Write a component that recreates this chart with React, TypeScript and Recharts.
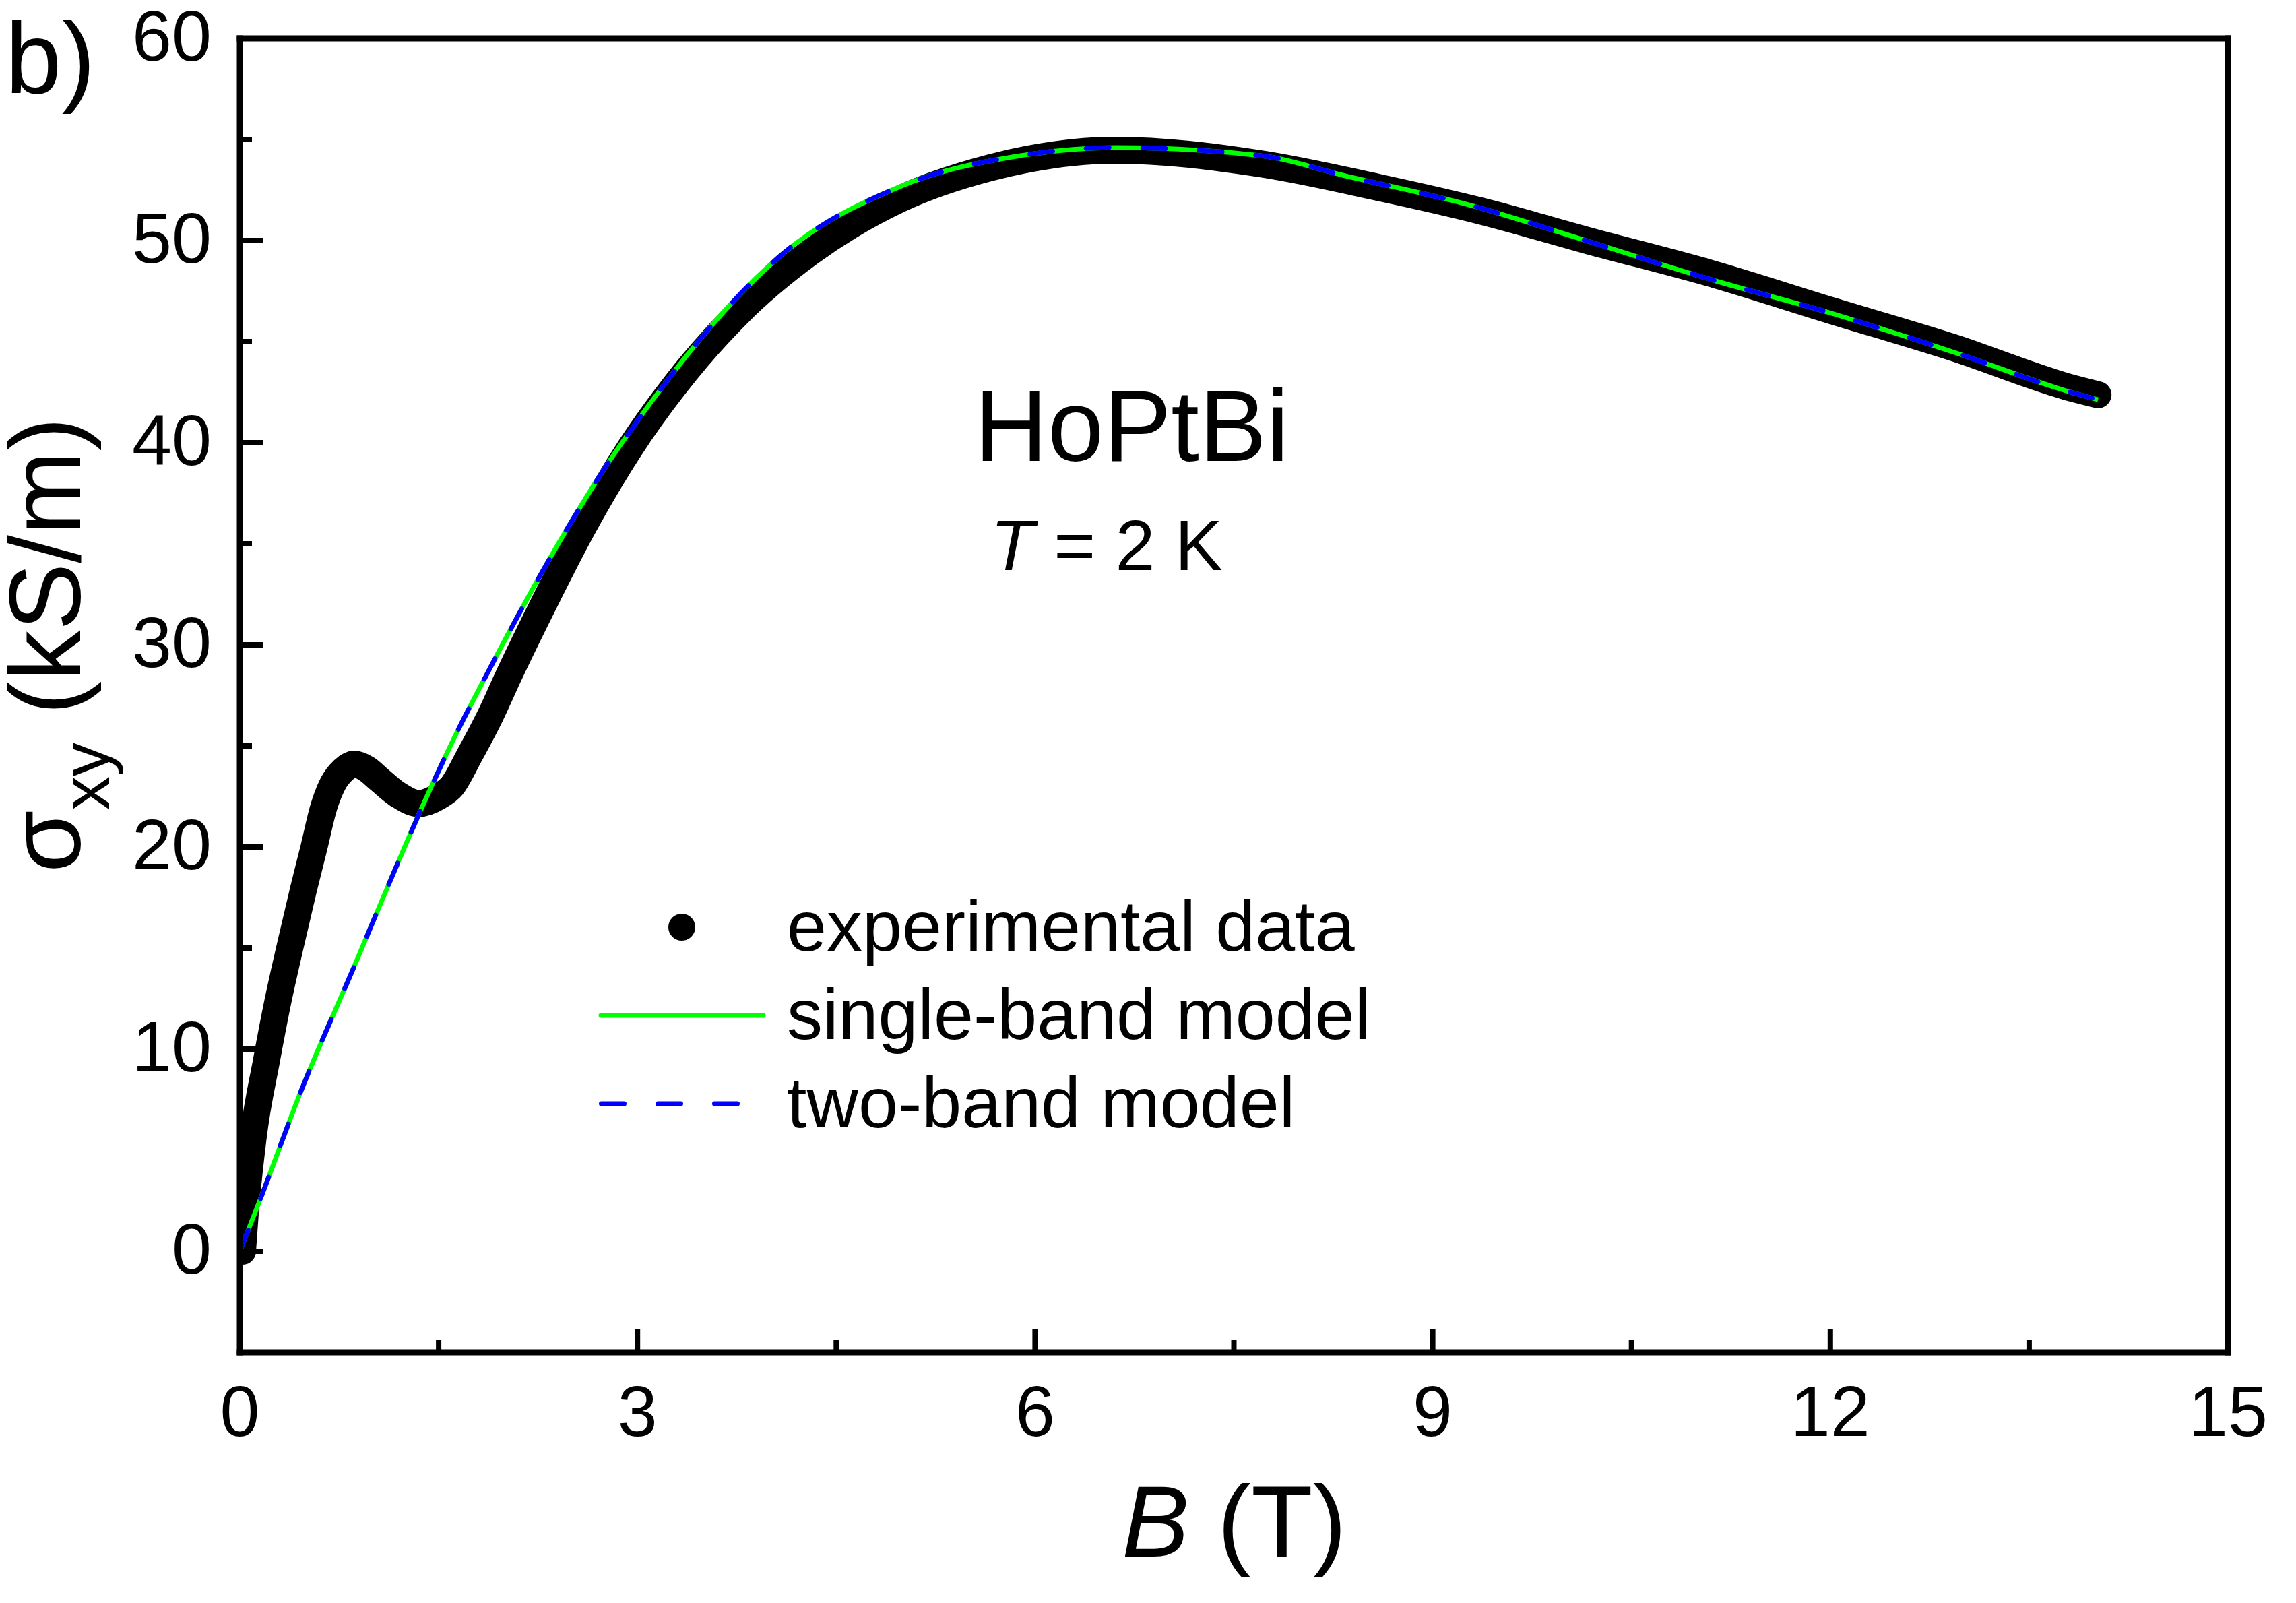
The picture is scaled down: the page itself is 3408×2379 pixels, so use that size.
import React from 'react';
import { LineChart, Line, XAxis, YAxis, Legend } from 'recharts';

// ---------- data ----------
const expB = [0.02, 0.04, 0.1, 0.2, 0.285, 0.38, 0.48, 0.56, 0.63, 0.7, 0.78, 0.865, 0.96, 1.05, 1.19, 1.35, 1.5, 1.6, 1.73, 1.89, 2.03, 2.29, 2.58, 2.94, 3.29, 3.76, 4.3, 4.98, 5.66, 6.61, 7.7, 8.61, 9.37, 10.18, 11.1, 12.01, 12.92, 13.84, 14.02];
const expSigma = [0, 1.8, 5.6, 9.4, 12.3, 15.1, 17.9, 20.0, 21.9, 23.1, 23.8, 24.1, 23.85, 23.35, 22.6, 22.15, 22.5, 23.0, 24.5, 26.5, 28.5, 32.0, 35.7, 39.7, 42.9, 46.4, 49.4, 52.05, 53.6, 54.47, 53.8, 52.6, 51.45, 49.98, 48.37, 46.53, 44.72, 42.67, 42.37];

const modelB = [0, 0.15, 0.46, 0.87, 1.12, 1.37, 1.64, 1.86, 2.12, 2.35, 2.7, 3.17, 3.71, 4.07, 4.98, 5.89, 6.61, 7.7, 8.36, 9.27, 10.18, 11.1, 12.01, 12.92, 13.84, 14.02];
const singleBandSigma = [0, 2.5, 7.9, 14.2, 18.1, 21.9, 25.7, 28.5, 31.7, 34.4, 38.2, 42.6, 46.9, 49.2, 52.67, 54.2, 54.6, 54.2, 53.17, 51.77, 49.95, 48.07, 46.4, 44.5, 42.45, 42.13];
const twoBandSigma = [0, 2.5, 7.9, 14.2, 18.1, 21.9, 25.7, 28.5, 31.7, 34.4, 38.2, 42.6, 46.9, 49.2, 52.67, 54.2, 54.6, 54.2, 53.17, 51.77, 49.95, 48.07, 46.4, 44.5, 42.45, 42.13];

const X_TICKS = [0, 1.5, 3, 4.5, 6, 7.5, 9, 10.5, 12, 13.5, 15];
const Y_TICKS = [-5, 0, 5, 10, 15, 20, 25, 30, 35, 40, 45, 50, 55, 60];
const X_MAJOR_STEP = 3;
const Y_MAJOR_STEP = 10;

const SERIES_NAMES = ['experimental data', 'single-band model', 'two-band model'];

const expData = expB.map((B, i) => ({ B, v: expSigma[i] }));
const singleData = modelB.map((B, i) => ({ B, v: singleBandSigma[i] }));
const twoData = modelB.map((B, i) => ({ B, v: twoBandSigma[i] }));

// ---------- layout ----------
const W = 3408;
const H = 2379;
const MARGIN = { top: 27, right: 41, bottom: 222, left: 56 };
const FONT = '"Liberation Sans", Arial, Helvetica, sans-serif';
const TICK_FS = 106;
const MAJOR_LEN = 34;
const MINOR_LEN = 18;
const TICK_W = 8;
const AXIS_W = 9;

const isMajor = (v: number, step: number) => Math.abs(v / step - Math.round(v / step)) < 1e-6;

const BottomTick = (props: any) => {
  const { x, y, payload } = props;
  const v = payload.value;
  const major = isMajor(v, X_MAJOR_STEP);
  return (
    <g>
      <line x1={x} x2={x} y1={y} y2={y - (major ? MAJOR_LEN : MINOR_LEN)} stroke="#000" strokeWidth={TICK_W} />
      {major && (
        <text x={x} y={y + 124} textAnchor="middle" fontSize={TICK_FS} fontFamily={FONT} fill="#000">
          {v}
        </text>
      )}
    </g>
  );
};

const TopTick = (props: any) => {
  const { x, y, payload } = props;
  const major = isMajor(payload.value, X_MAJOR_STEP);
  return <line x1={x} x2={x} y1={y} y2={y + (major ? MAJOR_LEN : MINOR_LEN)} stroke="#000" strokeWidth={TICK_W} />;
};

const LeftTick = (props: any) => {
  const { x, y, payload } = props;
  const v = payload.value;
  const major = isMajor(v, Y_MAJOR_STEP);
  return (
    <g>
      <line x1={x} x2={x + (major ? MAJOR_LEN : MINOR_LEN)} y1={y} y2={y} stroke="#000" strokeWidth={TICK_W} />
      {major && (
        <text x={x - 42} y={y + 33} textAnchor="end" fontSize={TICK_FS} fontFamily={FONT} fill="#000">
          {v}
        </text>
      )}
    </g>
  );
};

const RightTick = (props: any) => {
  const { x, y, payload } = props;
  const major = isMajor(payload.value, Y_MAJOR_STEP);
  return <line x1={x} x2={x - (major ? MAJOR_LEN : MINOR_LEN)} y1={y} y2={y} stroke="#000" strokeWidth={TICK_W} />;
};

const renderLegend = (props: any) => {
  const payload = props.payload || [];
  const rows = SERIES_NAMES.map((name, i) => {
    const entry = payload.find((p: any) => p.value === name);
    return { name, color: entry ? entry.color : '#000', i };
  });
  return (
    <svg width={1200} height={400} style={{ display: 'block', overflow: 'visible' }}>
      {rows.map(({ name, color, i }) => {
        const cy = 66 + i * 131;
        return (
          <g key={name}>
            {i === 0 && <circle cx={132} cy={cy} r={20} fill={color} />}
            {i === 1 && <line x1={12} x2={253} y1={cy} y2={cy} stroke={color} strokeWidth={7} strokeLinecap="round" />}
            {i === 2 && (
              <line x1={12.5} x2={215} y1={cy} y2={cy} stroke={color} strokeWidth={7} strokeDasharray="34 50" strokeLinecap="round" />
            )}
            <text x={288} y={cy + 35} fontSize={106} fontFamily={FONT} fill="#000">
              {name}
            </text>
          </g>
        );
      })}
    </svg>
  );
};

const axisLineStyle = { stroke: '#000', strokeWidth: AXIS_W, strokeLinecap: 'square' as const };

export default function App() {
  return (
    <div style={{ position: 'absolute', left: 0, top: 0, width: W, height: H, background: '#fff', overflow: 'hidden' }}>
      <LineChart width={W} height={H} margin={MARGIN}>
        <XAxis
          xAxisId="b"
          dataKey="B"
          type="number"
          domain={[0, 15]}
          ticks={X_TICKS}
          interval={0}
          allowDataOverflow
          orientation="bottom"
          height={150}
          tickSize={0}
          tickMargin={0}
          tickLine={false}
          axisLine={axisLineStyle}
          tick={BottomTick}
        />
        <XAxis
          xAxisId="t"
          dataKey="B"
          type="number"
          domain={[0, 15]}
          ticks={X_TICKS}
          interval={0}
          orientation="top"
          height={30}
          tickSize={0}
          tickMargin={0}
          tickLine={false}
          axisLine={axisLineStyle}
          tick={TopTick}
        />
        <YAxis
          yAxisId="l"
          type="number"
          domain={[-5, 60]}
          ticks={Y_TICKS}
          interval={0}
          allowDataOverflow
          orientation="left"
          width={300}
          tickSize={0}
          tickMargin={0}
          tickLine={false}
          axisLine={axisLineStyle}
          tick={LeftTick}
        />
        <YAxis
          yAxisId="r"
          type="number"
          domain={[-5, 60]}
          ticks={Y_TICKS}
          interval={0}
          orientation="right"
          width={60}
          tickSize={0}
          tickMargin={0}
          tickLine={false}
          axisLine={axisLineStyle}
          tick={RightTick}
        />
        <Legend
          content={renderLegend}
          layout="vertical"
          align="center"
          verticalAlign="middle"
          wrapperStyle={{ position: 'absolute', left: 880, top: 1310, width: 1200, height: 400 }}
        />
        <Line
          xAxisId="b"
          yAxisId="l"
          data={expData}
          dataKey="v"
          name={SERIES_NAMES[0]}
          type="monotone"
          stroke="#000"
          strokeWidth={40}
          strokeLinecap="round"
          strokeLinejoin="round"
          dot={false}
          isAnimationActive={false}
        />
        <Line
          xAxisId="b"
          yAxisId="l"
          data={singleData}
          dataKey="v"
          name={SERIES_NAMES[1]}
          type="monotone"
          stroke="#00ff00"
          strokeWidth={7}
          dot={false}
          isAnimationActive={false}
        />
        <Line
          xAxisId="b"
          yAxisId="l"
          data={twoData}
          dataKey="v"
          name={SERIES_NAMES[2]}
          type="monotone"
          stroke="#0000ff"
          strokeWidth={7}
          strokeDasharray="34 50"
          strokeLinecap="round"
          dot={false}
          isAnimationActive={false}
        />
      </LineChart>
      <svg
        width={W}
        height={H}
        style={{ position: 'absolute', left: 0, top: 0, pointerEvents: 'none' }}
        fontFamily={FONT}
      >
        <text x={8} y={138} fontSize={150} fill="#000">b)</text>
        <text transform="translate(119,957) rotate(-90)" textAnchor="middle" fontSize={150} fill="#000">
          σ<tspan fontSize={100} dy={43}>xy</tspan>
          <tspan dy={-43}> (kS/m)</tspan>
        </text>
        <text x={1832} y={2310} textAnchor="middle" fontSize={150} fill="#000">
          <tspan fontStyle="italic">B</tspan> (T)
        </text>
        <text x={1680} y={684} textAnchor="middle" fontSize={150} fill="#000">HoPtBi</text>
        <text x={1470} y={846} fontSize={106} fill="#000">
          <tspan fontStyle="italic">T</tspan> = 2 K
        </text>
      </svg>
    </div>
  );
}
